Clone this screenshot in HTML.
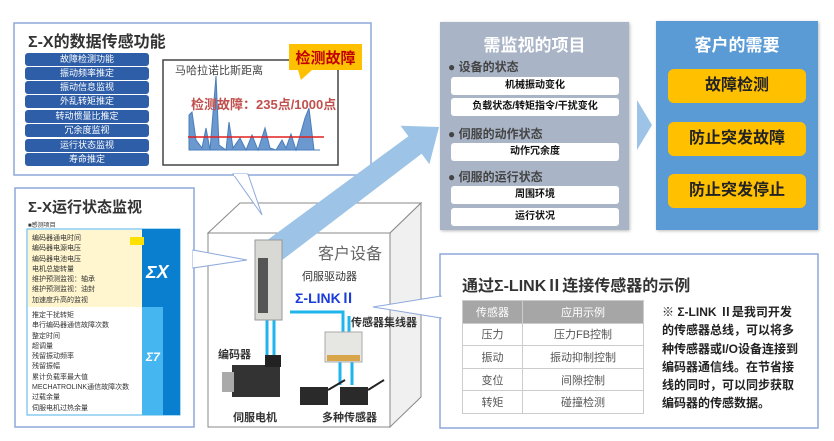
<!DOCTYPE html>
<html><head><meta charset="utf-8"><style>
*{margin:0;padding:0;box-sizing:border-box}
body{width:834px;height:441px;background:#fff;position:relative;overflow:hidden;font-family:"Liberation Sans","Noto Sans CJK SC",sans-serif}
.a{position:absolute}
.btn{position:absolute;left:25px;width:124px;height:13px;background:#2e5ea8;color:#fff;font-size:9px;line-height:13px;text-align:center;border-radius:3px}
.wb{position:absolute;left:451px;width:168px;height:18px;background:#fff;border-radius:3px;font-size:10px;font-weight:bold;text-align:center;line-height:18px;color:#111}
.gh{position:absolute;left:448px;font-size:12px;color:#444;font-weight:bold}
.yb{position:absolute;left:668px;width:138px;height:34px;background:#ffc000;border-radius:6px;font-size:16px;font-weight:bold;text-align:center;line-height:34px;color:#222}
.sm{font-size:7px;line-height:10.3px;color:#333}
td{border:1px solid #ccc;text-align:center;font-size:11px;color:#555;height:22.6px}
</style></head><body>
<svg class="a" style="left:0;top:0" width="834" height="441">
<polygon points="208,233 240,203 421,203 390,233" fill="#fff" stroke="#888"/>
<polygon points="390,233 421,203 421,397 390,427" fill="#f0f0f0" stroke="#888"/>
<rect x="208" y="233" width="182" height="194" fill="#fff" stroke="#888"/>
<rect x="14" y="23" width="357" height="152" fill="#fff" stroke="#8ea9db" stroke-width="1.5"/>
<polygon points="233,174 248,174 262,215" fill="#fff" stroke="#8ea9db"/>
<line x1="234" y1="175" x2="247" y2="175" stroke="#fff" stroke-width="2"/>
<rect x="15" y="188" width="179" height="239" fill="#fff" stroke="#8ea9db" stroke-width="1.5"/>
<polygon points="193,250 247,260 193,268" fill="#fff" stroke="#8ea9db"/>
<line x1="194" y1="251" x2="194" y2="267" stroke="#fff" stroke-width="2"/>
<polygon points="262,244 277,264 421.6,153.8 429.4,164.2 439,127 400.6,125.8 408.4,136.2" fill="#9dc3e6"/>
<polygon points="637,100 652,125 637,150" fill="#9dc3e6"/>
<rect x="440" y="254" width="378" height="174" fill="#fff" stroke="#8ea9db" stroke-width="1.5"/>
<polygon points="441,296 373,307 441,318" fill="#fff" stroke="#8ea9db"/>
<line x1="441" y1="297" x2="441" y2="317" stroke="#fff" stroke-width="2"/>
<g stroke="#1fb5ec" stroke-width="3" fill="none">
<polyline points="290,312 343,312 343,332"/><line x1="349" y1="316" x2="349" y2="332"/>
<line x1="267" y1="320" x2="267" y2="362"/><line x1="274" y1="320" x2="274" y2="362"/>
<line x1="340" y1="362" x2="340" y2="385"/><line x1="352" y1="362" x2="352" y2="385"/>
</g>
<rect x="255" y="240" width="27" height="80" fill="#d8d8d4" stroke="#999"/>
<rect x="258" y="258" width="10" height="55" fill="#555"/>
<rect x="325" y="332" width="37" height="30" fill="#e6e6e2" stroke="#aaa"/>
<rect x="327" y="355" width="33" height="6" fill="#d9a54a"/>
<rect x="232" y="365" width="48" height="32" fill="#333"/>
<rect x="222" y="372" width="12" height="20" fill="#aaa"/>
<rect x="265" y="355" width="16" height="12" fill="#222"/>
<rect x="300" y="387" width="28" height="18" fill="#2a2a2a"/><line x1="328" y1="390" x2="345" y2="380" stroke="#222" stroke-width="2"/>
<rect x="340" y="387" width="28" height="18" fill="#2a2a2a"/><line x1="368" y1="390" x2="384" y2="380" stroke="#222" stroke-width="2"/>
<rect x="163" y="60" width="175" height="105" fill="#fff" stroke="#444" stroke-width="1.5"/>
<polygon points="189,150 189,115 192,112 196,140 202,148 206,128 210,150 216,76 219,145 226,150 229,122 233,148 240,138 246,150 252,135 258,150 265,128 270,148 276,150 282,140 286,148 291,134 296,150 305,118 309,108 314,150 320,150" fill="#6a98cf" stroke="#4a7ebb" stroke-width="1"/>
<line x1="188" y1="137" x2="324" y2="137" stroke="#e02020" stroke-width="1.5"/>
<rect x="289" y="44" width="73" height="26" fill="#ffc000"/>
<polygon points="298,70 312,70 301,80" fill="#ffc000"/>
<rect x="27" y="229" width="153" height="186" fill="#fff" stroke="#4fb3e8"/>
<rect x="28" y="230" width="114" height="77" fill="#fff6cf"/>
<rect x="142" y="229" width="38" height="186" fill="#0a7fd0"/>
<rect x="142" y="307" width="21" height="108" fill="#45b6ef"/>
<rect x="130" y="237" width="14" height="8" fill="#ffe000"/>
</svg>
<div class="a" style="left:28px;top:28px;font-size:16px;font-weight:bold;color:#333">Σ-X的数据传感功能</div>
<div class="btn" style="top:53px">故障检测功能</div><div class="btn" style="top:67px">振动频率推定</div><div class="btn" style="top:81px">振动信息监视</div><div class="btn" style="top:95px">外乱转矩推定</div><div class="btn" style="top:110px">转动惯量比推定</div><div class="btn" style="top:124px">冗余度监视</div><div class="btn" style="top:139px">运行状态监视</div><div class="btn" style="top:153px">寿命推定</div>
<div class="a" style="left:175px;top:62px;font-size:11px;color:#444">马哈拉诺比斯距离</div>
<div class="a" style="left:191px;top:94px;font-size:13px;font-weight:bold;color:#c0504d">检测故障：235点/1000点</div>
<div class="a" style="left:289px;top:47px;width:73px;text-align:center;font-size:15px;font-weight:bold;color:#c00000">检测故障</div>
<div class="a" style="left:28px;top:196px;font-size:15px;font-weight:bold;color:#333">Σ-X运行状态监视</div>
<div class="a" style="left:28px;top:220px;font-size:6px;color:#333">■感测项目</div>
<div class="a sm" style="left:32px;top:234px">编码器通电时间<br>编码器电源电压<br>编码器电池电压<br>电机总旋转量<br>维护预测监视：轴承<br>维护预测监视：油封<br>加速度升高的监视</div>
<div class="a sm" style="left:32px;top:311px">推定干扰转矩<br>串行编码器通信故障次数<br>整定时间<br>超调量<br>残留振动频率<br>残留振幅<br>累计负载率最大值<br>MECHATROLINK通信故障次数<br>过载余量<br>伺服电机过热余量</div>
<div class="a" style="left:146px;top:262px;font-size:18px;font-weight:bold;font-style:italic;color:#fff">ΣX</div>
<div class="a" style="left:146px;top:350px;font-size:12px;font-weight:bold;font-style:italic;color:#fff">Σ7</div>
<div class="a" style="left:318px;top:240px;font-size:16px;color:#666">客户设备</div>
<div class="a" style="left:302px;top:268px;font-size:11px;color:#333">伺服驱动器</div>
<div class="a" style="left:295px;top:288px;font-size:14px;font-weight:bold;color:#1a3cd8">Σ-LINKⅡ</div>
<div class="a" style="left:351px;top:314px;font-size:11px;font-weight:bold;color:#333">传感器集线器</div>
<div class="a" style="left:218px;top:346px;font-size:11px;font-weight:bold;color:#333">编码器</div>
<div class="a" style="left:233px;top:409px;font-size:11px;font-weight:bold;color:#333">伺服电机</div>
<div class="a" style="left:322px;top:409px;font-size:11px;font-weight:bold;color:#333">多种传感器</div>
<div class="a" style="left:440px;top:22px;width:189px;height:208px;background:#a9b4c6;box-shadow:1px 1px 3px #bbb"></div>
<div class="a" style="left:440px;top:31px;width:189px;text-align:center;font-size:17px;font-weight:bold;color:#fff">需监视的项目</div>
<div class="gh" style="top:58px">● 设备的状态</div>
<div class="wb" style="top:77px">机械振动变化</div><div class="wb" style="top:98px">负载状态/转矩指令/干扰变化</div>
<div class="gh" style="top:125px">● 伺服的动作状态</div>
<div class="wb" style="top:143px">动作冗余度</div>
<div class="gh" style="top:168px">● 伺服的运行状态</div>
<div class="wb" style="top:186px">周围环境</div><div class="wb" style="top:208px">运行状况</div>
<div class="a" style="left:656px;top:21px;width:162px;height:209px;background:#5b9bd5;box-shadow:1px 1px 3px #bbb"></div>
<div class="a" style="left:656px;top:31px;width:162px;text-align:center;font-size:17px;font-weight:bold;color:#fff">客户的需要</div>
<div class="yb" style="top:69px">故障检测</div><div class="yb" style="top:122px">防止突发故障</div><div class="yb" style="top:174px">防止突发停止</div>
<div class="a" style="left:462px;top:272px;font-size:16px;font-weight:bold;color:#333">通过Σ-LINKⅡ连接传感器的示例</div>
<table class="a" style="left:462px;top:300px;width:182px;border-collapse:collapse">
<tr><td style="background:#a6a6a6;color:#fff;width:60px">传感器</td><td style="background:#a6a6a6;color:#fff">应用示例</td></tr>
<tr><td>压力</td><td>压力FB控制</td></tr><tr><td>振动</td><td>振动抑制控制</td></tr><tr><td>变位</td><td>间隙控制</td></tr><tr><td>转矩</td><td>碰撞检测</td></tr></table>
<div class="a" style="left:662px;top:303px;font-size:12px;font-weight:bold;line-height:18.3px;color:#222">※ Σ-LINK Ⅱ是我司开发<br>的传感器总线，可以将多<br>种传感器或I/O设备连接到<br>编码器通信线。在节省接<br>线的同时，可以同步获取<br>编码器的传感数据。</div>
</body></html>
